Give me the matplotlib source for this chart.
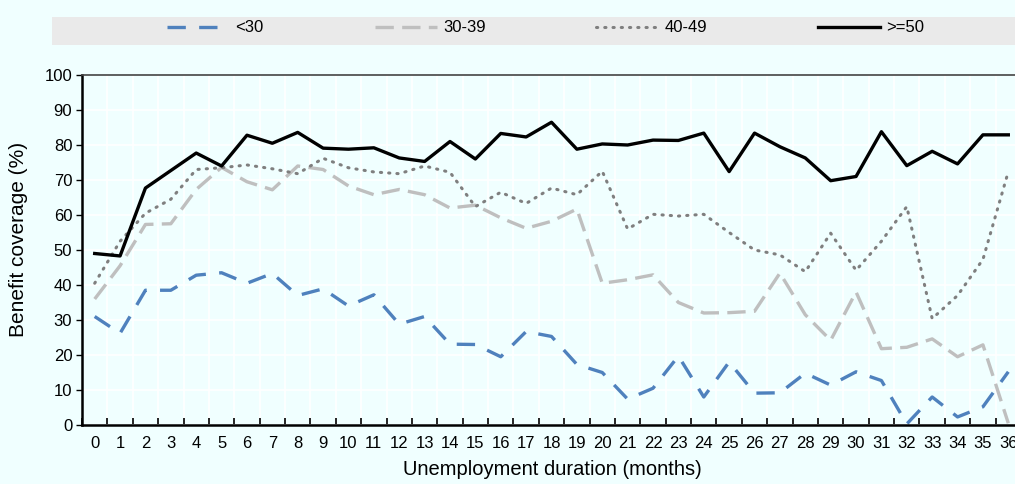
import matplotlib
matplotlib.use("Agg")
import matplotlib.pyplot as plt
from matplotlib import font_manager
from matplotlib.patches import Rectangle

# pick a condensed font if there is one
names = {f.name for f in font_manager.fontManager.ttflist}
fam = "Liberation Sans Narrow" if "Liberation Sans Narrow" in names else "Liberation Sans"
plt.rcParams["font.family"] = [fam, "DejaVu Sans"]

months = list(range(37))
under30 = [31, 26.2, 38.5, 38.5, 42.8, 43.5, 40.5, 43.3, 37, 38.9, 34, 37.2, 28.8, 31,
           23.1, 23, 19.5, 26.7, 25.3, 17.3, 15, 7.4, 10.5, 19.7, 8, 18, 9.1, 9.2, 14.8,
           11.4, 15.2, 12.7, 0.3, 8, 2.3, 5.2, 15.2]
age30_39 = [36, 45.5, 57.3, 57.5, 67.3, 73.6, 69.5, 67.2, 74, 73, 68.3, 65.8, 67.3, 65.8,
            62, 62.8, 59.2, 56.2, 58.2, 61.7, 40.5, 41.5, 42.9, 35, 32, 32.1, 32.5, 43.4,
            31.5, 24.2, 38, 21.8, 22.2, 24.6, 19.5, 22.9, 0.5]
age40_49 = [40.5, 52.5, 60.5, 64.5, 73, 73.5, 74.3, 73.2, 71.8, 76.2, 73.5, 72.3, 71.8, 74,
            72.2, 62.4, 66.5, 63.3, 67.7, 65.8, 72.5, 56, 60.2, 59.7, 60.2, 55, 50, 48.6,
            43.8, 54.8, 44.2, 52.5, 62.4, 30.4, 37, 47.3, 72.4]
over50 = [49, 48.3, 67.7, 72.7, 77.7, 74, 82.8, 80.5, 83.6, 79.1, 78.8, 79.2, 76.3, 75.3,
          81, 76, 83.3, 82.3, 86.5, 78.8, 80.3, 80, 81.4, 81.3, 83.4, 72.4, 83.4, 79.5,
          76.3, 69.8, 71, 83.8, 74.1, 78.2, 74.6, 82.9, 82.9]
labels = ["<30", "30-39", "40-49", ">=50"]

bg = "#F0FFFF"
W, H = 1015, 484
fig = plt.figure(figsize=(W / 100, H / 100), dpi=100, facecolor=bg)
# axes runs slightly past the right edge like the original crop
ax = fig.add_axes([82 / W, 59 / H, (1021 - 82) / W, 350 / H], facecolor=bg)

styles = [
    dict(color="#4F81BD", lw=2.4, dashes=(5.5, 4)),
    dict(color="#BFBFBF", lw=2.4, dashes=(5.5, 2.5)),
    dict(color="#7F7F7F", lw=2.2, linestyle=(0, (0.4, 2.3)), dash_capstyle="round"),
    dict(color="#000000", lw=2.4),
]
series = [under30, age30_39, age40_49, over50]
lines = []
for vals, st in zip(series, styles):
    ln, = ax.plot(months, vals, **st, clip_on=False)
    lines.append(ln)

ax.set_xlim(-0.5, 36.5)
ax.set_ylim(0, 100)
ax.set_yticks(range(0, 101, 10))
ax.set_xticks(months)
ax.set_xticks([m - 0.5 for m in months] + [36.5], minor=True)
ax.tick_params(axis="x", which="major", length=0, labelsize=12, pad=8)
ax.tick_params(axis="x", which="minor", direction="in", length=5, width=1.2, color="black")
ax.tick_params(axis="y", direction="out", length=4, width=1, labelsize=12, pad=3)
ax.grid(True, axis="x", which="minor", color="white", lw=1.2)
ax.grid(True, axis="y", which="major", color="white", lw=1.2)
ax.set_axisbelow(True)

for s in ["left", "bottom"]:
    ax.spines[s].set_linewidth(1.8)
    ax.spines[s].set_color("black")
ax.spines["top"].set_linewidth(1.2)
ax.spines["top"].set_color("#444444")
ax.spines["right"].set_visible(False)

ax.set_ylabel("Benefit coverage (%)", fontsize=15)
ax.yaxis.set_label_coords(-0.057, 0.53)
ax.set_xlabel("Unemployment duration (months)", fontsize=14.5)
ax.xaxis.set_label_coords((552 - 82) / (1021 - 82), -0.1)

# legend band
fig.patches.append(Rectangle((52 / W, 1 - 45 / H), (W - 52) / W, 28 / H,
                             transform=fig.transFigure, facecolor="#EAEAEA",
                             edgecolor="none", zorder=0))
xs = [167, 375, 596, 818]
for ln, lab, x in zip(lines, labels, xs):
    fig.legend(handles=[ln], labels=[lab], loc="center left",
               bbox_to_anchor=(x / W, 1 - 28 / H), frameon=False, fontsize=12,
               handlelength=3.7, handletextpad=0.4, borderpad=0, borderaxespad=0)

fig.savefig("out.png", dpi=100, facecolor=bg)
